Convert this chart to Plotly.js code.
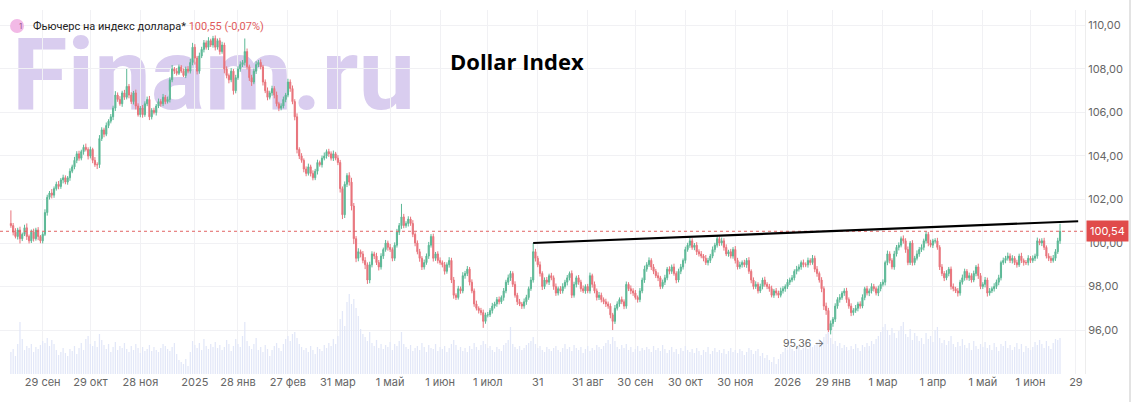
<!DOCTYPE html>
<html>
<head>
<meta charset="utf-8">
<script src="https://cdn.plot.ly/plotly-3.0.1.min.js"></script>
<style>
  html, body { margin: 0; padding: 0; background: #fff; }
  #wrap { position: relative; width: 1147px; height: 411px; overflow: hidden; }
  #mark { position: absolute; left: 12px; top: 39px; font-family: Roboto, "DejaVu Sans", sans-serif;
          font-weight: 700; font-size: 101px; line-height: 0.72; color: #d9cdef; white-space: nowrap; }
  #chart { position: absolute; left: 0; top: 0; width: 1147px; height: 411px; }
  #edge { position: absolute; left: 1129px; top: 0; width: 2px; height: 402px; background: #e3e3e3; }
</style>
</head>
<body>
<div id="wrap">
  <div id="mark">Finam.ru</div>
  <div id="chart"></div>
  <div id="edge"></div>
</div>
<script>
// daily candles, Dollar Index futures, from 10 Sep 2024
const startDate = '2024-09-10';
const firstOpen = 100.9;

const closes = [
  100.8, 100.5, 100.3, 100.6, 100.2, 100.4, 100.7, 100.3, 100.1, 100.5,
  100.2, 100.6, 100.3, 100.1, 100.4, 101.4, 102.1, 102.3, 102.2, 102.5,
  102.7, 102.6, 102.9, 103.0, 102.8, 103.0, 103.3, 103.5, 103.8, 104.1,
  103.9, 104.2, 104.4, 104.3, 104.0, 104.3, 103.8, 103.6, 103.6, 104.8,
  105.2, 105.0, 105.4, 105.6, 105.8, 106.2, 106.8, 106.6, 106.4, 106.9,
  106.7, 107.2, 106.8, 106.5, 106.9, 106.3, 105.9, 106.2, 105.9, 106.4,
  106.6, 105.8, 106.1, 106.0, 106.3, 106.5, 106.4, 106.7, 106.5, 106.6,
  107.5, 108.0, 107.9, 107.8, 108.1, 107.9, 107.7, 108.0, 107.9, 108.3,
  109.0, 108.5, 107.9, 108.6, 108.9, 109.2, 109.0, 109.3, 109.1, 109.4,
  109.0, 109.3, 108.8, 109.1, 108.0, 107.7, 107.5, 107.9, 107.0, 107.6,
  108.0, 108.2, 108.3, 108.8, 108.1, 107.6, 107.4, 107.9, 108.2, 108.3,
  108.1, 107.4, 107.0, 106.7, 106.9, 107.1, 106.8, 106.4, 106.2, 106.3,
  106.6, 106.8, 107.4, 107.1, 106.5, 105.8, 104.3, 104.0, 103.8, 103.4,
  103.2, 103.5, 103.2, 103.0, 103.3, 103.7, 103.6, 103.9, 104.0, 104.2,
  104.1, 103.9, 104.1, 103.9, 103.7, 102.5, 101.3, 102.7, 103.1, 102.8,
  101.7, 100.2, 99.3, 99.6, 99.5, 99.2, 99.0, 98.3, 99.0, 99.5,
  99.4, 99.1, 98.9, 99.4, 99.7, 100.0, 99.8, 99.7, 99.3, 99.9,
  100.5, 100.8, 101.2, 100.8, 100.9, 101.1, 100.9, 100.4, 100.0, 99.6,
  99.3, 98.9, 99.1, 99.4, 99.9, 100.3, 99.3, 99.5, 99.2, 99.1,
  99.0, 98.7, 99.0, 99.2, 98.3, 97.6, 97.5, 97.9, 97.8, 98.5,
  98.6, 98.8, 98.2, 97.8, 97.2, 97.0, 96.9, 96.8, 96.4, 96.7,
  96.7, 96.9, 97.1, 97.2, 97.4, 97.3, 97.5, 97.8, 98.2, 98.4,
  98.6, 98.1, 97.6, 97.3, 97.2, 97.1, 97.3, 97.5, 97.9, 98.3,
  99.6, 99.3, 99.0, 98.6, 98.0, 98.3, 98.2, 98.5, 98.4, 98.0,
  97.7, 97.9, 97.8, 98.0, 98.2, 98.4, 98.6, 97.6, 98.1, 98.4,
  98.2, 97.9, 97.8, 98.0, 97.8, 98.5, 98.1, 97.8, 97.5, 97.6,
  97.4, 97.3, 97.2, 97.1, 96.7, 96.4, 97.0, 97.2, 97.4, 97.3,
  97.1, 98.1, 97.9, 97.8, 97.7, 97.5, 97.4, 97.8, 98.3, 98.8,
  99.0, 99.2, 98.9, 98.7, 98.5, 98.4, 98.0, 98.2, 98.4, 98.8,
  98.7, 98.9, 98.6, 98.3, 98.7, 98.9, 99.2, 99.7, 99.9, 100.1,
  99.8, 99.9, 99.6, 99.5, 99.4, 99.3, 99.1, 99.2, 99.4, 99.7,
  99.9, 100.2, 100.0, 100.1, 99.8, 99.5, 99.6, 99.4, 99.7, 99.2,
  98.9, 99.0, 99.1, 99.0, 99.2, 98.7, 98.3, 98.0, 98.1, 97.8,
  98.0, 98.3, 98.1, 98.0, 97.9, 97.6, 97.8, 97.7, 97.6, 97.8,
  97.9, 98.0, 98.2, 98.3, 98.4, 98.7, 98.8, 98.9, 99.1, 99.0,
  99.0, 99.2, 99.1, 99.3, 98.8, 98.6, 98.3, 97.9, 97.1, 96.9,
  96.0, 96.3, 96.5, 97.1, 97.4, 97.5, 97.7, 97.8, 97.4, 97.1,
  96.8, 96.9, 97.0, 97.2, 97.1, 97.5, 97.9, 97.7, 97.8, 98.0,
  97.9, 97.7, 97.9, 98.1, 98.2, 99.1, 99.5, 99.2, 98.9, 99.5,
  99.8, 99.9, 100.2, 100.1, 99.7, 99.1, 100.0, 99.1, 99.3, 99.5,
  99.7, 99.8, 100.1, 100.4, 100.0, 99.9, 100.1, 100.1, 99.8, 98.9,
  98.6, 98.4, 98.6, 98.8, 98.0, 97.9, 97.8, 97.7, 98.2, 98.4,
  98.7, 98.4, 98.5, 98.3, 98.6, 98.9, 98.5, 98.0, 98.1, 98.3,
  97.7, 97.8, 97.9, 98.0, 98.2, 98.4, 99.1, 99.2, 99.3, 99.4,
  99.2, 99.3, 99.1, 99.0, 99.4, 99.2, 99.1, 99.1, 99.3, 99.2,
  99.3, 99.4, 100.1, 100.0, 100.1, 99.8, 99.4, 99.3, 99.2, 99.3,
  99.6, 100.1, 100.54
];

// wick above / below the body, in hundredths
const wickUp = [
  60, 12, 18, 10, 15, 8, 14, 20, 9, 12,
  16, 10, 13, 7, 11, 15, 12, 9, 18, 10,
  12, 15, 9, 14, 11, 8, 13, 10, 16, 12,
  14, 9, 12, 17, 10, 13, 8, 15, 11, 16,
  12, 10, 14, 9, 13, 11, 18, 12, 15, 10,
  14, 80, 11, 13, 9, 15, 12, 10, 14, 11,
  13, 16, 10, 12, 9, 14, 11, 15, 10, 13,
  12, 18, 9, 14, 10, 8, 12, 11, 13, 16,
  20, 14, 10, 15, 12, 13, 11, 16, 9, 12,
  14, 10, 13, 15, 11, 12, 9, 14, 10, 13,
  12, 15, 11, 60, 14, 10, 13, 12, 16, 11,
  14, 9, 12, 15, 10, 13, 11, 16, 9, 12,
  13, 10, 15, 12, 14, 11, 16, 10, 13, 9,
  12, 15, 10, 14, 11, 13, 9, 12, 16, 10,
  13, 11, 15, 9, 14, 12, 10, 13, 11, 15,
  20, 14, 12, 16, 10, 13, 15, 11, 14, 12,
  10, 15, 12, 13, 9, 14, 11, 16, 10, 13,
  15, 12, 60, 14, 10, 13, 11, 15, 9, 12,
  13, 10, 14, 12, 15, 11, 13, 9, 12, 14,
  10, 13, 11, 15, 12, 14, 9, 13, 10, 16,
  12, 14, 10, 13, 11, 15, 9, 12, 14, 10,
  13, 11, 15, 10, 12, 14, 9, 13, 11, 15,
  12, 10, 14, 11, 13, 9, 15, 12, 10, 14,
  40, 13, 11, 15, 10, 12, 14, 9, 13, 11,
  14, 10, 12, 15, 11, 13, 9, 14, 12, 10,
  13, 11, 15, 10, 12, 14, 9, 13, 11, 15,
  12, 10, 14, 11, 13, 9, 15, 12, 10, 14,
  11, 13, 10, 15, 12, 14, 9, 13, 11, 16,
  12, 14, 10, 13, 11, 15, 9, 12, 14, 10,
  13, 11, 15, 10, 12, 14, 9, 13, 11, 15,
  12, 10, 14, 11, 13, 9, 15, 12, 10, 14,
  11, 13, 10, 15, 12, 14, 9, 13, 11, 16,
  12, 14, 10, 13, 11, 15, 9, 12, 14, 10,
  13, 11, 15, 10, 12, 14, 9, 13, 11, 15,
  12, 10, 14, 11, 13, 9, 15, 12, 10, 14,
  11, 13, 10, 15, 12, 14, 9, 13, 11, 16,
  12, 14, 10, 13, 11, 15, 9, 12, 14, 10,
  13, 11, 15, 10, 12, 14, 9, 13, 11, 15,
  12, 10, 14, 11, 13, 9, 15, 12, 10, 14,
  11, 13, 10, 15, 12, 14, 9, 13, 11, 16,
  12, 14, 10, 13, 11, 15, 9, 12, 14, 10,
  13, 11, 15, 10, 12, 14, 9, 13, 11, 15,
  12, 10, 14, 11, 13, 9, 15, 12, 10, 14,
  11, 13, 10, 15, 12, 14, 9, 13, 11, 16,
  12, 14, 10, 13, 11, 15, 9, 12, 14, 10,
  13, 11, 15, 10, 12, 14, 9, 13, 11, 15,
  12, 14, 35
];

const wickDown = [
  10, 15, 9, 14, 22, 11, 8, 16, 12, 10,
  13, 9, 17, 11, 12, 8, 14, 10, 15, 12,
  9, 13, 11, 16, 10, 12, 14, 9, 11, 13,
  12, 10, 14, 9, 16, 11, 13, 10, 20, 15,
  11, 14, 9, 12, 10, 15, 13, 11, 9, 14,
  12, 10, 15, 11, 13, 16, 9, 12, 14, 10,
  11, 15, 12, 9, 14, 10, 13, 11, 12, 9,
  14, 11, 13, 10, 8, 9, 7, 12, 10, 11,
  13, 30, 15, 12, 10, 14, 11, 13, 9, 12,
  15, 11, 14, 10, 20, 13, 16, 11, 18, 12,
  10, 13, 11, 14, 12, 15, 18, 10, 13, 11,
  12, 16, 11, 14, 10, 13, 15, 12, 14, 10,
  11, 13, 10, 15, 12, 16, 18, 14, 11, 15,
  13, 10, 14, 12, 11, 15, 9, 13, 10, 12,
  14, 11, 13, 10, 12, 18, 20, 15, 13, 16,
  20, 25, 18, 14, 16, 13, 20, 18, 15, 12,
  14, 11, 16, 12, 13, 10, 15, 11, 14, 12,
  11, 13, 15, 12, 10, 14, 11, 13, 15, 12,
  16, 14, 12, 10, 13, 11, 15, 12, 14, 10,
  12, 15, 11, 13, 14, 16, 12, 10, 13, 11,
  14, 12, 15, 11, 13, 10, 14, 12, 30, 11,
  12, 10, 14, 11, 13, 12, 10, 15, 11, 13,
  14, 12, 11, 15, 10, 13, 12, 14, 11, 10,
  12, 15, 11, 14, 16, 12, 10, 13, 11, 15,
  13, 11, 14, 12, 10, 15, 12, 13, 11, 14,
  12, 14, 10, 13, 11, 12, 15, 11, 14, 12,
  13, 11, 14, 12, 16, 40, 12, 10, 13, 11,
  14, 12, 11, 15, 13, 10, 14, 12, 11, 13,
  12, 10, 14, 13, 11, 15, 12, 10, 13, 11,
  14, 12, 10, 15, 11, 13, 12, 14, 10, 12,
  11, 13, 15, 12, 10, 14, 11, 13, 12, 10,
  13, 11, 14, 12, 15, 10, 13, 11, 12, 14,
  12, 10, 13, 11, 14, 12, 15, 13, 11, 12,
  10, 13, 11, 12, 14, 10, 12, 11, 13, 10,
  12, 14, 11, 13, 10, 12, 14, 11, 13, 12,
  11, 13, 12, 10, 14, 15, 12, 16, 18, 20,
  64, 20, 15, 13, 12, 14, 11, 13, 15, 12,
  16, 13, 11, 14, 12, 10, 13, 11, 14, 12,
  13, 11, 14, 12, 10, 15, 12, 14, 11, 13,
  12, 14, 10, 13, 15, 12, 11, 14, 12, 10,
  13, 11, 14, 12, 15, 10, 13, 12, 11, 14,
  12, 15, 11, 13, 14, 12, 10, 16, 12, 11,
  13, 11, 14, 12, 10, 13, 15, 12, 11, 14,
  16, 12, 10, 13, 11, 14, 12, 10, 13, 11,
  12, 14, 11, 13, 10, 12, 14, 11, 13, 12,
  11, 13, 12, 10, 14, 12, 11, 13, 12, 10,
  12, 10, 14
];

const volumes = [
  22, 25, 18, 30, 52, 35, 24, 28, 26, 30,
  22, 27, 25, 29, 33, 31, 36, 28, 34, 30,
  24, 19, 22, 26, 21, 18, 25, 23, 28, 20,
  26, 31, 24, 35, 38, 30, 28, 33, 27, 40,
  34, 29, 25, 30, 22, 27, 32, 24, 28, 26,
  31, 25, 22, 28, 24, 30, 26, 21, 27, 23,
  25, 29, 23, 27, 24, 22, 26, 30, 28, 25,
  23, 27, 31, 20, 14, 12, 10, 15, 8, 22,
  33, 29, 26, 31, 24, 35, 28, 25, 30, 27,
  32, 26, 29, 24, 27, 34, 30, 23, 28, 35,
  30, 27, 38, 52, 33, 28, 25, 30, 36, 24,
  27, 22, 29, 25, 18, 24, 28, 31, 26, 23,
  30, 35, 38, 33, 40, 42, 36, 30, 27, 24,
  26, 22, 28, 24, 20, 27, 25, 23, 29, 26,
  31, 28, 35, 30, 38, 55, 63, 48, 72, 80,
  70, 75, 66, 58, 45, 40, 37, 33, 42, 31,
  28, 34, 26, 30, 25, 29, 27, 32, 24, 30,
  28, 33, 42, 30, 27, 25, 29, 23, 26, 28,
  24, 31, 27, 22, 29, 26, 25, 30, 23, 27,
  25, 28, 22, 26, 30, 34, 29, 24, 27, 23,
  26, 22, 28, 25, 31, 27, 24, 29, 33, 30,
  26, 28, 24, 22, 27, 25, 23, 29, 31, 34,
  47, 30, 27, 25, 28, 24, 26, 29, 31, 33,
  37, 30, 26, 28, 24, 22, 27, 25, 23, 26,
  28, 24, 22, 26, 30, 25, 27, 23, 29, 26,
  24, 27, 21, 25, 28, 23, 26, 24, 29, 27,
  25, 28, 31, 34, 30, 37, 33, 27, 25, 29,
  26, 30, 24, 27, 22, 25, 28, 23, 26, 24,
  27, 25, 22, 28, 24, 26, 23, 29, 25, 21,
  24, 27, 22, 25, 20, 26, 23, 28, 24, 22,
  25, 21, 26, 23, 19, 24, 22, 27, 20, 23,
  26, 22, 24, 21, 25, 20, 23, 26, 22, 24,
  21, 25, 23, 19, 22, 26, 24, 20, 23, 25,
  18, 21, 16, 19, 14, 12, 17, 10, 15, 20,
  22, 26, 24, 28, 25, 23, 27, 29, 24, 26,
  28, 25, 30, 27, 29, 32, 35, 33, 37, 40,
  42, 36, 30, 33, 28, 31, 26, 29, 27, 24,
  28, 25, 30, 26, 23, 29, 27, 31, 28, 33,
  30, 35, 38, 42, 47, 50, 44, 39, 46, 41,
  36, 43, 48, 52, 40, 37, 45, 34, 41, 38,
  33, 36, 30, 41, 35, 38, 32, 44, 47, 36,
  31, 34, 29, 33, 38, 30, 27, 32, 28, 35,
  29, 26, 31, 24, 33, 28, 25, 30, 27, 32,
  26, 29, 24, 31, 27, 23, 30, 28, 33, 26,
  29, 24, 27, 31, 25, 30, 22, 28, 26, 24,
  27, 32, 29, 34, 30, 26, 33, 28, 25, 31,
  35, 34, 36
];

const tickDates = ['2024-09-29', '2024-10-29', '2024-11-28', '2025-01-01', '2025-01-28', '2025-02-27',
  '2025-03-31', '2025-05-01', '2025-06-01', '2025-07-01', '2025-07-31', '2025-08-31', '2025-09-30',
  '2025-10-30', '2025-11-30', '2026-01-01', '2026-01-29', '2026-03-01', '2026-04-01', '2026-05-01',
  '2026-06-01', '2026-06-29'];
const tickLabels = ['29 сен', '29 окт', '28 ноя', '2025', '28 янв', '27 фев', '31 мар', '1 май', '1 июн',
  '1 июл', '31', '31 авг', '30 сен', '30 окт', '30 ноя', '2026', '29 янв', '1 мар', '1 апр', '1 май',
  '1 июн', '29'];
const priceTicks = [96, 98, 100, 102, 104, 106, 108, 110];

const lastPrice = 100.54;
const minLabel = 95.36;
const trendDates = ['2025-07-29', '2026-06-30'];
const trendLevels = [100.0, 101.0];

// trading calendar (weekdays)
const days = [];
for (let d = new Date(startDate + 'T00:00:00Z'); d <= new Date('2026-07-31T00:00:00Z'); d.setUTCDate(d.getUTCDate() + 1)) {
  const wd = d.getUTCDay();
  if (wd !== 0 && wd !== 6) days.push(d.toISOString().slice(0, 10));
}
const dayIndex = s => days.findIndex(d => d >= s);

const idx = closes.map((_, i) => i);
const opens = closes.map((c, i) => i === 0 ? firstOpen : closes[i - 1]);
const highs = closes.map((c, i) => Math.max(c, opens[i]) + wickUp[i] / 100);
const lows = closes.map((c, i) => Math.min(c, opens[i]) - wickDown[i] / 100);
const minIdx = lows.indexOf(Math.min(...lows));

const green = '#5cb896';
const red = '#e8747c';

const traces = [
  {
    type: 'bar', x: idx, y: volumes, yaxis: 'y2',
    marker: { color: '#e2e7f8' }, hoverinfo: 'skip'
  },
  {
    type: 'candlestick', x: idx, open: opens, high: highs, low: lows, close: closes,
    whiskerwidth: 0,
    increasing: { line: { color: green, width: 1 }, fillcolor: green },
    decreasing: { line: { color: red, width: 1 }, fillcolor: red },
    hoverinfo: 'skip'
  }
];

const tickFont = { family: 'Inter, Roboto, sans-serif', size: 11, color: '#666' };

const layout = {
  width: 1147, height: 411,
  margin: { l: 0, r: 62, t: 10, b: 37 },
  paper_bgcolor: 'rgba(0,0,0,0)', plot_bgcolor: 'rgba(0,0,0,0)',
  showlegend: false,
  separators: ', ',
  bargap: 0.45,
  xaxis: {
    range: [-4.8, 473],
    tickvals: tickDates.map(dayIndex), ticktext: tickLabels,
    showgrid: true, gridcolor: '#f1f1f4', zeroline: false,
    ticks: '', tickfont: tickFont,
    rangeslider: { visible: false }, fixedrange: true
  },
  yaxis: {
    side: 'right', range: [93.98, 110.71],
    tickvals: priceTicks, tickformat: '.2f',
    showgrid: true, gridcolor: '#f1f1f4', zeroline: false,
    showline: true, linecolor: '#ededed',
    ticks: '', tickfont: tickFont, fixedrange: true
  },
  yaxis2: { overlaying: 'y', range: [0, 364], visible: false, fixedrange: true },
  shapes: [
    {
      type: 'line', xref: 'paper', x0: 0, x1: 1, yref: 'y', y0: lastPrice, y1: lastPrice,
      line: { color: '#e26464', width: 1, dash: 'dot' }
    },
    {
      type: 'line', xref: 'x', yref: 'y',
      x0: dayIndex(trendDates[0]), y0: trendLevels[0], x1: dayIndex(trendDates[1]), y1: trendLevels[1],
      line: { color: '#000', width: 2.2 }
    },
    {
      type: 'circle', xref: 'paper', yref: 'paper', xsizemode: 'pixel', ysizemode: 'pixel',
      xanchor: 0.0157, yanchor: 0.956, x0: -7, x1: 7, y0: -7, y1: 7,
      fillcolor: '#f2b9e6', line: { width: 0 }
    }
  ],
  annotations: [
    {
      xref: 'paper', yref: 'paper', x: 0.0157, y: 0.956, yanchor: 'middle', showarrow: false,
      text: '1', font: { family: 'Inter, sans-serif', size: 8, color: '#9a5a8e' }
    },
    {
      xref: 'paper', yref: 'paper', x: 0.0285, y: 0.956, xanchor: 'left', yanchor: 'middle', showarrow: false,
      text: 'Фьючерс на индекс доллара* <span style="color:#e05a5a">100,55 (-0,07%)</span>',
      font: { family: 'Roboto, sans-serif', size: 11, color: '#222' }
    },
    {
      xref: 'paper', yref: 'paper', x: 0.4765, y: 0.861, yanchor: 'middle', showarrow: false,
      text: '<b>Dollar Index</b>',
      font: { family: '"Open Sans", Lato, sans-serif', size: 22, color: '#000' }
    },
    {
      xref: 'paper', yref: 'y', x: 1, y: lastPrice, xanchor: 'left', xshift: 1, showarrow: false,
      text: '100,54', bgcolor: '#e04b4b', borderpad: 3,
      font: { family: 'Inter, Roboto, sans-serif', size: 11, color: '#fff' }
    },
    {
      xref: 'x', yref: 'y', x: minIdx - 1.2, y: minLabel, xanchor: 'right', showarrow: false,
      text: '95,36 →',
      font: { family: 'Inter, Roboto, sans-serif', size: 10.5, color: '#666' }
    }
  ]
};

Plotly.newPlot('chart', traces, layout, { staticPlot: true });
</script>
</body>
</html>
